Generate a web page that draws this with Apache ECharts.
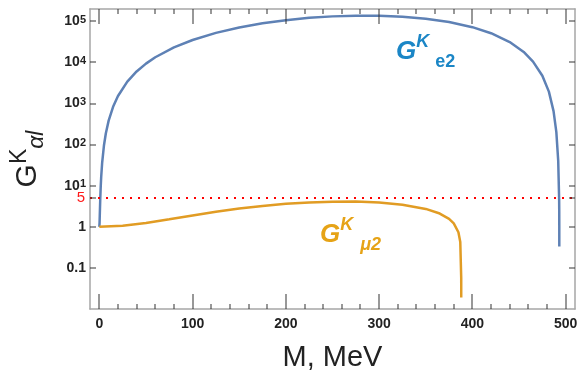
<!DOCTYPE html>
<html>
<head>
<meta charset="utf-8">
<script src="https://cdn.jsdelivr.net/npm/echarts@6/dist/echarts.min.js"></script>
<style>
  html, body { margin: 0; padding: 0; background: #fff; }
  #chart { width: 577px; height: 378px; }
</style>
</head>
<body>
<div id="chart"></div>
<script>
// G^K_e2 curve (M in MeV)
const massE2 = [0, 0.25, 0.5, 1, 1.5, 2, 3, 5, 7, 10, 15, 20, 30, 40, 50, 60, 80, 100, 125, 150, 175, 200,
  225, 250, 275, 300, 325, 350, 375, 400, 420, 440, 455, 465, 475, 482, 487, 490, 492, 493, 493.1, 493.15, 493.165];
const gE2 = [1, 1.24, 1.96, 4.83, 9.6, 16.3, 35.5, 96.7, 189, 384, 861, 1527, 3420, 6050, 9380, 13400, 23200, 35200,
  52400, 71000, 89700, 107000, 121700, 132300, 137800, 137100, 129900, 116000, 96400, 72300, 51500, 31400, 18000,
  10500, 4760, 1950, 655, 202, 40.6, 4.6, 2.4, 1.05, 0.33];

// G^K_mu2 curve
const massMu2 = [0, 25, 50, 75, 100, 125, 150, 175, 200, 225, 250, 275, 300, 325, 350, 365, 375, 380, 385, 387, 388, 388.017];
const gMu2 = [1, 1.061, 1.239, 1.523, 1.892, 2.321, 2.778, 3.224, 3.621, 3.927, 4.101, 4.104, 3.9, 3.455, 2.724,
  2.104, 1.562, 1.215, 0.738, 0.427, 0.058, 0.019];

const levelLine = 5;

// axes
const xMajorTicks = [0, 100, 200, 300, 400, 500];
const xMinorTicks = [20, 40, 60, 80, 120, 140, 160, 180, 220, 240, 260, 280, 320, 340, 360, 380, 420, 440, 460, 480];
const yLabelValues = [0.1, 1, 10, 100, 1000, 10000, 100000];
const yTickValues = [0.1, 1, 5, 10, 100, 1000, 10000, 100000];

const xRange = [-10, 510];
const yRange = [0.01, 200000];

const toPairs = (xs, ys) => xs.map((x, i) => [x, ys[i]]);

const chart = echarts.init(document.getElementById('chart'));

const frameColor = '#a6a6a6';
const tickColor = '#333333';
const font = '"Liberation Sans", Arial, sans-serif';
const plotRect = { left: 90, right: 2, top: 9, bottom: 69, outerBoundsMode: 'none' };

// frame ticks on all four sides, pointing inward: [x, y, dx, dy]
const frameTicks = [];
xMajorTicks.forEach(v => { frameTicks.push([v, yRange[0], 0, -15]); frameTicks.push([v, yRange[1], 0, 15]); });
xMinorTicks.forEach(v => { frameTicks.push([v, yRange[0], 0, -5]); frameTicks.push([v, yRange[1], 0, 5]); });
yTickValues.forEach(v => { frameTicks.push([xRange[0], v, 6, 0]); frameTicks.push([xRange[1], v, -6, 0]); });

function xAxisOf(grid, pos, withLabels, withLine) {
  return {
    type: 'value', gridIndex: grid, position: pos, min: xRange[0], max: xRange[1],
    axisLine: { show: withLine, onZero: false, lineStyle: { color: frameColor, width: 1.5 } },
    axisTick: { show: false },
    axisLabel: {
      show: withLabels, customValues: xMajorTicks, margin: 8,
      fontFamily: font, fontWeight: 'bold', fontSize: 14, color: '#222'
    },
    splitLine: { show: false }
  };
}

function yAxisOf(grid, pos, withLine) {
  return {
    type: 'log', gridIndex: grid, position: pos, min: yRange[0], max: yRange[1], logBase: 10,
    axisLine: { show: withLine, onZero: false, lineStyle: { color: frameColor, width: 1.5 } },
    axisTick: { show: false },
    axisLabel: { show: false },
    splitLine: { show: false }
  };
}

const bottomMain = xAxisOf(0, 'bottom', true, true);
bottomMain.name = 'M, MeV';
bottomMain.nameLocation = 'middle';
bottomMain.nameGap = 34;
bottomMain.nameTextStyle = { fontFamily: font, fontSize: 29, color: '#222' };

const leftMain = yAxisOf(0, 'left', true);
leftMain.axisLabel = {
  show: true, customValues: yLabelValues, margin: 4,
  formatter: function (v) {
    const p = Math.round(Math.log10(v));
    if (p === 0) return '{b|1}';
    if (p === -1) return '{b|0.1}';
    return '{b|10}{s|' + p + '}';
  },
  rich: {
    b: { fontFamily: font, fontWeight: 'bold', fontSize: 14, color: '#222', lineHeight: 14, verticalAlign: 'bottom' },
    s: { fontFamily: font, fontWeight: 'bold', fontSize: 11, color: '#222', lineHeight: 11, verticalAlign: 'top', padding: [0, 0, 8, 0] }
  }
};
leftMain.name = '{g|G}{k|K}{a|αl}';
leftMain.nameLocation = 'middle';
leftMain.nameGap = 42;
leftMain.nameTextStyle = {
  rich: {
    g: { fontFamily: font, fontSize: 30, color: '#222', lineHeight: 40, verticalAlign: 'middle' },
    k: { fontFamily: font, fontSize: 23, color: '#222', lineHeight: 23, verticalAlign: 'top' },
    a: { fontFamily: font, fontSize: 23, fontStyle: 'italic', color: '#222', lineHeight: 23, verticalAlign: 'bottom' }
  }
};

// second grid on the same rectangle, only for the red "5" mark
const levelLeft = yAxisOf(1, 'left', false);
levelLeft.axisLabel = { show: true, customValues: [levelLine], margin: 5, fontFamily: font, fontSize: 15, color: '#ff1a1a' };
const levelX = xAxisOf(1, 'bottom', false, false);

const option = {
  animation: false,
  grid: [plotRect, plotRect],
  xAxis: [bottomMain, xAxisOf(0, 'top', false, true), levelX],
  yAxis: [leftMain, yAxisOf(0, 'right', true), levelLeft],
  graphic: [
    {
      type: 'text', x: 396, y: 33,
      style: {
        text: '{g|G}{k|K}{s|e2}',
        rich: {
          g: { fontFamily: font, fontSize: 26, fontWeight: 'bold', fontStyle: 'italic', fill: '#1b86c6', lineHeight: 38, verticalAlign: 'middle' },
          k: { fontFamily: font, fontSize: 18, fontWeight: 'bold', fontStyle: 'italic', fill: '#1b86c6', lineHeight: 18, verticalAlign: 'top' },
          s: { fontFamily: font, fontSize: 18, fontWeight: 'bold', fill: '#1b86c6', lineHeight: 18, verticalAlign: 'bottom', padding: [0, 0, 0, 6] }
        }
      }
    },
    {
      type: 'text', x: 320, y: 216,
      style: {
        text: '{g|G}{k|K}{s|μ2}',
        rich: {
          g: { fontFamily: font, fontSize: 26, fontWeight: 'bold', fontStyle: 'italic', fill: '#e6a316', lineHeight: 38, verticalAlign: 'middle' },
          k: { fontFamily: font, fontSize: 18, fontWeight: 'bold', fontStyle: 'italic', fill: '#e6a316', lineHeight: 18, verticalAlign: 'top' },
          s: { fontFamily: font, fontSize: 18, fontWeight: 'bold', fontStyle: 'italic', fill: '#e6a316', lineHeight: 18, verticalAlign: 'bottom', padding: [0, 0, 0, 7] }
        }
      }
    }
  ],
  series: [
    {
      type: 'line', name: 'e2', xAxisIndex: 0, yAxisIndex: 0,
      data: toPairs(massE2, gE2),
      showSymbol: false, smooth: false,
      lineStyle: { color: '#5e81b5', width: 2.5 },
      markLine: {
        silent: true, symbol: 'none',
        label: { show: false },
        lineStyle: { color: '#ff0000', type: [2, 6], width: 2 },
        data: [{ yAxis: levelLine }]
      }
    },
    {
      type: 'line', name: 'mu2', xAxisIndex: 0, yAxisIndex: 0,
      data: toPairs(massMu2, gMu2),
      showSymbol: false, smooth: false,
      lineStyle: { color: '#e19c24', width: 2.5 }
    },
    {
      // frame ticks as thin filled rectangles placed through the axes' scales
      type: 'custom', name: 'ticks', xAxisIndex: 0, yAxisIndex: 0,
      coordinateSystem: 'cartesian2d', clip: false, silent: true, z: 10,
      encode: { x: 0, y: 1 },
      data: frameTicks,
      renderItem: function (params, api) {
        const p = api.coord([api.value(0), api.value(1)]);
        const dx = api.value(2);
        const dy = api.value(3);
        const x = Math.round(p[0]);
        const y = Math.round(p[1]);
        const shape = dx !== 0
          ? { x: Math.min(x, x + dx), y: y - 0.5, width: Math.abs(dx), height: 1 }
          : { x: x - 0.5, y: Math.min(y, y + dy), width: 1, height: Math.abs(dy) };
        return { type: 'rect', shape: shape, style: { fill: tickColor } };
      }
    }
  ]
};

chart.setOption(option);
</script>
</body>
</html>
